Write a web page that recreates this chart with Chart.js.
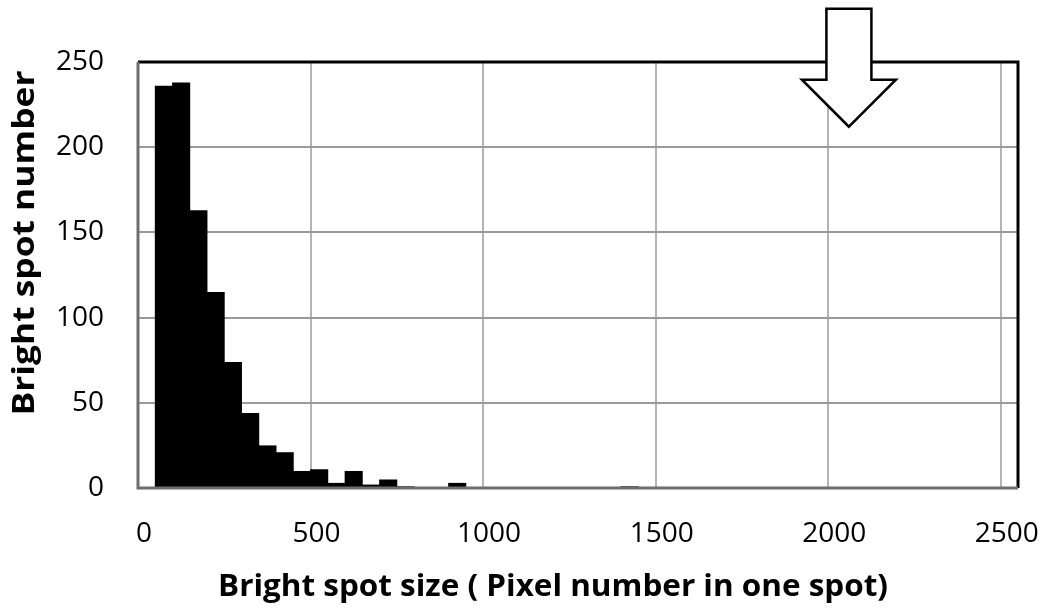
<!DOCTYPE html>
<html lang="en">
<head>
  <meta charset="UTF-8">
  <title>Bright spot size histogram</title>
  <script src="https://cdn.jsdelivr.net/npm/chart.js"></script>
  <style>
    html, body { margin: 0; padding: 0; background: #fff; }
    #wrap { width: 1049px; height: 608px; }
  </style>
</head>
<body>
  <div id="wrap"><canvas id="histChart"></canvas></div>
  <script>
    // bin start (pixels per spot), each bin is 50 wide
    const binStarts = [50, 100, 150, 200, 250, 300, 350, 400, 450, 500, 550, 600, 650, 700, 750,
                       800, 850, 900, 950, 1000, 1050, 1100, 1150, 1200, 1250, 1300, 1350, 1400];
    const spotCounts = [236, 238, 163, 115, 74, 44, 25, 21, 10, 11, 3, 10, 2, 5, 1,
                        0, 0, 3, 0, 0, 0, 0, 0, 0, 0, 0, 0, 1];
    const binWidth = 50;
    const xTicks = [0, 500, 1000, 1500, 2000, 2500];
    const yTicks = [0, 50, 100, 150, 200, 250];
    const xTitle = 'Bright spot size ( Pixel number in one spot)';
    const yTitle = 'Bright spot number';
    // arrow marker pointing down at about 2050 px
    const arrowX = 2060;
    const arrowTipY = 212;

    const points = binStarts.map((s, i) => ({ x: s + binWidth / 2, y: spotCounts[i] }));

    // draw text stretched/squeezed to a given width
    function fitText(ctx, text, x, y, width) {
      const w = ctx.measureText(text).width;
      ctx.save();
      ctx.translate(x, y);
      ctx.scale(width / w, 1);
      ctx.fillText(text, 0, 0);
      ctx.restore();
    }

    // frame, titles and the arrow
    const extras = {
      id: 'extras',
      afterDatasetsDraw(chart) {
        const ctx = chart.ctx;
        const a = chart.chartArea;
        ctx.save();
        // black frame top / right
        ctx.strokeStyle = '#000';
        ctx.lineWidth = 3;
        ctx.beginPath();
        ctx.moveTo(a.left, a.top);
        ctx.lineTo(a.right, a.top);
        ctx.lineTo(a.right, a.bottom);
        ctx.stroke();
        // grey axis lines left / bottom
        ctx.strokeStyle = '#6e6e6e';
        ctx.beginPath();
        ctx.moveTo(a.left, a.top);
        ctx.lineTo(a.left, a.bottom);
        ctx.lineTo(a.right, a.bottom);
        ctx.stroke();
        ctx.restore();
      },
      afterDraw(chart) {
        const ctx = chart.ctx;
        const xs = chart.scales.x, ys = chart.scales.y;
        ctx.save();
        ctx.fillStyle = '#000';
        ctx.font = 'bold 30px "Open Sans"';
        ctx.textAlign = 'center';
        ctx.textBaseline = 'middle';
        fitText(ctx, xTitle, 553, 587, 670);
        ctx.translate(25, 243);
        ctx.rotate(-Math.PI / 2);
        fitText(ctx, yTitle, 0, 0, 345);
        ctx.restore();

        // block arrow
        const tx = xs.getPixelForValue(arrowX);
        const ty = ys.getPixelForValue(arrowTipY);
        const headH = 47, headW = 47, shaftW = 22.5, shaftH = 71;
        ctx.save();
        ctx.beginPath();
        ctx.moveTo(tx, ty);
        ctx.lineTo(tx - headW, ty - headH);
        ctx.lineTo(tx - shaftW, ty - headH);
        ctx.lineTo(tx - shaftW, ty - headH - shaftH);
        ctx.lineTo(tx + shaftW, ty - headH - shaftH);
        ctx.lineTo(tx + shaftW, ty - headH);
        ctx.lineTo(tx + headW, ty - headH);
        ctx.closePath();
        ctx.fillStyle = '#fff';
        ctx.fill();
        ctx.strokeStyle = '#000';
        ctx.lineWidth = 2.5;
        ctx.lineJoin = 'miter';
        ctx.stroke();
        ctx.restore();
      }
    };

    new Chart(document.getElementById('histChart'), {
      type: 'bar',
      data: {
        datasets: [{
          data: points,
          backgroundColor: '#000',
          borderWidth: 0,
          barPercentage: 1.05,
          categoryPercentage: 1.0
        }]
      },
      options: {
        responsive: true,
        maintainAspectRatio: false,
        animation: false,
        layout: { padding: { top: 62, right: 31, left: 0, bottom: 0 } },
        plugins: { legend: { display: false }, tooltip: { enabled: false } },
        scales: {
          x: {
            type: 'linear',
            min: 0,
            max: 2550,
            offset: false,
            afterFit(scale) {
              scale.height = 120;
              scale.paddingLeft = 0;
              scale.paddingRight = 0;
            },
            afterBuildTicks(scale) { scale.ticks = xTicks.map(v => ({ value: v })); },
            grid: { offset: false, color: '#b4b4b4', lineWidth: 2, drawTicks: false },
            border: { display: false },
            ticks: {
              padding: 29,
              labelOffset: 6,
              color: '#000',
              font: { family: 'Open Sans', size: 28 },
              maxRotation: 0,
              autoSkip: false,
              callback: v => String(v)
            }
          },
          y: {
            min: 0,
            max: 250,
            afterFit(scale) { scale.width = 138; },
            afterBuildTicks(scale) { scale.ticks = yTicks.map(v => ({ value: v })); },
            grid: { color: '#9a9a9a', lineWidth: 2, drawTicks: false },
            border: { display: false },
            ticks: {
              padding: 34,
              color: '#000',
              font: { family: 'Open Sans', size: 28 },
              callback: v => String(v)
            }
          }
        }
      },
      plugins: [extras]
    });
  </script>
</body>
</html>
